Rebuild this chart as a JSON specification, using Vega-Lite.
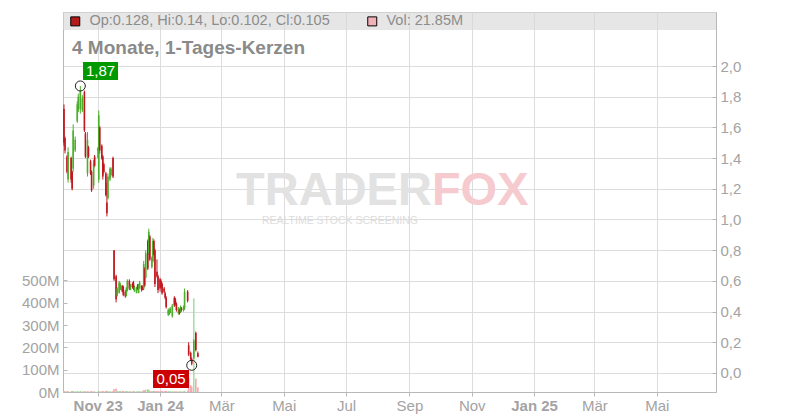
{
  "$schema": "https://vega.github.io/schema/vega-lite/v6.json",
  "width": 653,
  "height": 380,
  "autosize": {"type": "none"},
  "padding": {"left": 63, "top": 12, "right": 84, "bottom": 28},
  "background": "white",
  "title": {"text": "4 Monate, 1-Tages-Kerzen", "anchor": "start", "frame": "group", "offset": -46, "dx": 9, "fontSize": 19, "fontWeight": "bold", "color": "#8a8a8a", "font": "Liberation Sans"},
  "config": {
    "view": {"stroke": "#c8c8c8"},
    "axis": {"labelFont": "Liberation Sans", "labelFontSize": 15, "labelColor": "#a3a3a3", "domainColor": "#b8b8b8", "tickColor": "#b8b8b8", "gridColor": "#dddddd", "title": null}
  },
  "datasets": {
    "candles": [
      {"date": "2023-09-29", "open": 1.72, "high": 1.75, "low": 1.48, "close": 1.50, "volume_mio": 5},
      {"date": "2023-09-30", "open": 1.53, "high": 1.54, "low": 1.43, "close": 1.45, "volume_mio": 3},
      {"date": "2023-10-02", "open": 1.41, "high": 1.42, "low": 1.30, "close": 1.31, "volume_mio": 3},
      {"date": "2023-10-03", "open": 1.26, "high": 1.47, "low": 1.24, "close": 1.44, "volume_mio": 4},
      {"date": "2023-10-06", "open": 1.40, "high": 1.41, "low": 1.24, "close": 1.26, "volume_mio": 3},
      {"date": "2023-10-07", "open": 1.31, "high": 1.32, "low": 1.19, "close": 1.20, "volume_mio": 4},
      {"date": "2023-10-08", "open": 1.33, "high": 1.62, "low": 1.31, "close": 1.58, "volume_mio": 5},
      {"date": "2023-10-10", "open": 1.45, "high": 1.54, "low": 1.44, "close": 1.52, "volume_mio": 3},
      {"date": "2023-10-12", "open": 1.64, "high": 1.77, "low": 1.63, "close": 1.75, "volume_mio": 4},
      {"date": "2023-10-13", "open": 1.71, "high": 1.82, "low": 1.70, "close": 1.80, "volume_mio": 3},
      {"date": "2023-10-15", "open": 1.72, "high": 1.87, "low": 1.69, "close": 1.84, "volume_mio": 5},
      {"date": "2023-10-17", "open": 1.71, "high": 1.81, "low": 1.70, "close": 1.79, "volume_mio": 3},
      {"date": "2023-10-19", "open": 1.83, "high": 1.84, "low": 1.57, "close": 1.58, "volume_mio": 4},
      {"date": "2023-10-20", "open": 1.56, "high": 1.57, "low": 1.40, "close": 1.41, "volume_mio": 3},
      {"date": "2023-10-22", "open": 1.30, "high": 1.57, "low": 1.28, "close": 1.52, "volume_mio": 4},
      {"date": "2023-10-23", "open": 1.47, "high": 1.48, "low": 1.40, "close": 1.41, "volume_mio": 2},
      {"date": "2023-10-25", "open": 1.38, "high": 1.39, "low": 1.29, "close": 1.30, "volume_mio": 3},
      {"date": "2023-10-26", "open": 1.31, "high": 1.32, "low": 1.18, "close": 1.19, "volume_mio": 4},
      {"date": "2023-10-28", "open": 1.22, "high": 1.39, "low": 1.20, "close": 1.37, "volume_mio": 3},
      {"date": "2023-10-29", "open": 1.41, "high": 1.42, "low": 1.34, "close": 1.35, "volume_mio": 2},
      {"date": "2023-11-01", "open": 1.45, "high": 1.47, "low": 1.40, "close": 1.46, "volume_mio": 2},
      {"date": "2023-11-02", "open": 1.26, "high": 1.71, "low": 1.24, "close": 1.68, "volume_mio": 5},
      {"date": "2023-11-03", "open": 1.60, "high": 1.61, "low": 1.43, "close": 1.45, "volume_mio": 3},
      {"date": "2023-11-05", "open": 1.48, "high": 1.49, "low": 1.39, "close": 1.40, "volume_mio": 3},
      {"date": "2023-11-06", "open": 1.41, "high": 1.42, "low": 1.26, "close": 1.28, "volume_mio": 4},
      {"date": "2023-11-07", "open": 1.36, "high": 1.37, "low": 1.30, "close": 1.31, "volume_mio": 2},
      {"date": "2023-11-09", "open": 1.30, "high": 1.31, "low": 1.15, "close": 1.16, "volume_mio": 4},
      {"date": "2023-11-10", "open": 1.11, "high": 1.24, "low": 1.02, "close": 1.04, "volume_mio": 6},
      {"date": "2023-11-11", "open": 1.14, "high": 1.30, "low": 1.13, "close": 1.28, "volume_mio": 4},
      {"date": "2023-11-13", "open": 1.26, "high": 1.34, "low": 1.25, "close": 1.33, "volume_mio": 3},
      {"date": "2023-11-14", "open": 1.29, "high": 1.34, "low": 1.28, "close": 1.33, "volume_mio": 2},
      {"date": "2023-11-16", "open": 1.40, "high": 1.41, "low": 1.27, "close": 1.28, "volume_mio": 4},
      {"date": "2023-11-17", "open": 0.80, "high": 0.80, "low": 0.60, "close": 0.61, "volume_mio": 14},
      {"date": "2023-11-19", "open": 0.63, "high": 0.64, "low": 0.46, "close": 0.48, "volume_mio": 16},
      {"date": "2023-11-20", "open": 0.50, "high": 0.56, "low": 0.50, "close": 0.55, "volume_mio": 6},
      {"date": "2023-11-22", "open": 0.52, "high": 0.60, "low": 0.52, "close": 0.59, "volume_mio": 5},
      {"date": "2023-11-23", "open": 0.54, "high": 0.59, "low": 0.54, "close": 0.58, "volume_mio": 4},
      {"date": "2023-11-25", "open": 0.57, "high": 0.57, "low": 0.53, "close": 0.53, "volume_mio": 4},
      {"date": "2023-11-26", "open": 0.56, "high": 0.57, "low": 0.50, "close": 0.51, "volume_mio": 5},
      {"date": "2023-11-28", "open": 0.53, "high": 0.54, "low": 0.49, "close": 0.50, "volume_mio": 4},
      {"date": "2023-11-29", "open": 0.50, "high": 0.56, "low": 0.50, "close": 0.55, "volume_mio": 3},
      {"date": "2023-11-30", "open": 0.54, "high": 0.61, "low": 0.53, "close": 0.60, "volume_mio": 5},
      {"date": "2023-12-02", "open": 0.60, "high": 0.61, "low": 0.54, "close": 0.55, "volume_mio": 4},
      {"date": "2023-12-03", "open": 0.54, "high": 0.58, "low": 0.54, "close": 0.57, "volume_mio": 3},
      {"date": "2023-12-05", "open": 0.58, "high": 0.59, "low": 0.55, "close": 0.56, "volume_mio": 3},
      {"date": "2023-12-06", "open": 0.59, "high": 0.60, "low": 0.54, "close": 0.55, "volume_mio": 4},
      {"date": "2023-12-07", "open": 0.53, "high": 0.57, "low": 0.53, "close": 0.56, "volume_mio": 3},
      {"date": "2023-12-09", "open": 0.52, "high": 0.56, "low": 0.52, "close": 0.55, "volume_mio": 3},
      {"date": "2023-12-10", "open": 0.57, "high": 0.58, "low": 0.54, "close": 0.55, "volume_mio": 2},
      {"date": "2023-12-11", "open": 0.52, "high": 0.58, "low": 0.52, "close": 0.57, "volume_mio": 3},
      {"date": "2023-12-12", "open": 0.55, "high": 0.60, "low": 0.55, "close": 0.59, "volume_mio": 4},
      {"date": "2023-12-14", "open": 0.57, "high": 0.57, "low": 0.53, "close": 0.54, "volume_mio": 3},
      {"date": "2023-12-15", "open": 0.56, "high": 0.57, "low": 0.54, "close": 0.54, "volume_mio": 3},
      {"date": "2023-12-16", "open": 0.55, "high": 0.73, "low": 0.54, "close": 0.71, "volume_mio": 9},
      {"date": "2023-12-17", "open": 0.68, "high": 0.69, "low": 0.56, "close": 0.57, "volume_mio": 7},
      {"date": "2023-12-18", "open": 0.62, "high": 0.80, "low": 0.62, "close": 0.78, "volume_mio": 11},
      {"date": "2023-12-20", "open": 0.86, "high": 0.87, "low": 0.67, "close": 0.68, "volume_mio": 12},
      {"date": "2023-12-21", "open": 0.78, "high": 0.94, "low": 0.77, "close": 0.92, "volume_mio": 10},
      {"date": "2023-12-22", "open": 0.89, "high": 0.90, "low": 0.73, "close": 0.74, "volume_mio": 6},
      {"date": "2023-12-24", "open": 0.69, "high": 0.76, "low": 0.68, "close": 0.75, "volume_mio": 4},
      {"date": "2023-12-25", "open": 0.73, "high": 0.88, "low": 0.72, "close": 0.86, "volume_mio": 5},
      {"date": "2023-12-26", "open": 0.86, "high": 0.87, "low": 0.76, "close": 0.77, "volume_mio": 4},
      {"date": "2023-12-27", "open": 0.80, "high": 0.81, "low": 0.56, "close": 0.58, "volume_mio": 6},
      {"date": "2023-12-29", "open": 0.66, "high": 0.74, "low": 0.62, "close": 0.63, "volume_mio": 4},
      {"date": "2023-12-30", "open": 0.63, "high": 0.64, "low": 0.52, "close": 0.54, "volume_mio": 5},
      {"date": "2024-01-01", "open": 0.61, "high": 0.62, "low": 0.53, "close": 0.55, "volume_mio": 3},
      {"date": "2024-01-02", "open": 0.60, "high": 0.61, "low": 0.55, "close": 0.56, "volume_mio": 3},
      {"date": "2024-01-03", "open": 0.58, "high": 0.59, "low": 0.51, "close": 0.52, "volume_mio": 4},
      {"date": "2024-01-05", "open": 0.55, "high": 0.56, "low": 0.52, "close": 0.53, "volume_mio": 3},
      {"date": "2024-01-06", "open": 0.52, "high": 0.53, "low": 0.48, "close": 0.49, "volume_mio": 3},
      {"date": "2024-01-07", "open": 0.49, "high": 0.50, "low": 0.42, "close": 0.43, "volume_mio": 5},
      {"date": "2024-01-09", "open": 0.38, "high": 0.42, "low": 0.37, "close": 0.41, "volume_mio": 4},
      {"date": "2024-01-10", "open": 0.38, "high": 0.42, "low": 0.38, "close": 0.41, "volume_mio": 3},
      {"date": "2024-01-11", "open": 0.39, "high": 0.43, "low": 0.39, "close": 0.42, "volume_mio": 3},
      {"date": "2024-01-13", "open": 0.37, "high": 0.45, "low": 0.36, "close": 0.44, "volume_mio": 4},
      {"date": "2024-01-15", "open": 0.49, "high": 0.50, "low": 0.43, "close": 0.44, "volume_mio": 3},
      {"date": "2024-01-16", "open": 0.48, "high": 0.49, "low": 0.44, "close": 0.45, "volume_mio": 2},
      {"date": "2024-01-17", "open": 0.45, "high": 0.46, "low": 0.40, "close": 0.41, "volume_mio": 3},
      {"date": "2024-01-19", "open": 0.39, "high": 0.43, "low": 0.38, "close": 0.42, "volume_mio": 3},
      {"date": "2024-01-20", "open": 0.41, "high": 0.42, "low": 0.38, "close": 0.39, "volume_mio": 2},
      {"date": "2024-01-21", "open": 0.40, "high": 0.44, "low": 0.39, "close": 0.43, "volume_mio": 3},
      {"date": "2024-01-22", "open": 0.42, "high": 0.43, "low": 0.40, "close": 0.41, "volume_mio": 2},
      {"date": "2024-01-24", "open": 0.41, "high": 0.44, "low": 0.40, "close": 0.43, "volume_mio": 3},
      {"date": "2024-01-25", "open": 0.42, "high": 0.55, "low": 0.41, "close": 0.53, "volume_mio": 6},
      {"date": "2024-01-28", "open": 0.53, "high": 0.54, "low": 0.46, "close": 0.47, "volume_mio": 5},
      {"date": "2024-01-29", "open": 0.18, "high": 0.20, "low": 0.11, "close": 0.12, "volume_mio": 65},
      {"date": "2024-01-31", "open": 0.13, "high": 0.14, "low": 0.08, "close": 0.09, "volume_mio": 30},
      {"date": "2024-02-01", "open": 0.09, "high": 0.10, "low": 0.05, "close": 0.06, "volume_mio": 25},
      {"date": "2024-02-03", "open": 0.10, "high": 0.22, "low": 0.09, "close": 0.21, "volume_mio": 420},
      {"date": "2024-02-05", "open": 0.26, "high": 0.27, "low": 0.14, "close": 0.15, "volume_mio": 60},
      {"date": "2024-02-07", "open": 0.128, "high": 0.14, "low": 0.102, "close": 0.105, "volume_mio": 21.85}
    ],
    "extremes": [
      {"date": "2023-10-15", "price": 1.87, "label": "1,87", "kind": "max"},
      {"date": "2024-02-01", "price": 0.05, "label": "0,05", "kind": "min"}
    ],
    "legend_items": [
      {"item": "Op:0.128, Hi:0.14, Lo:0.102, Cl:0.105"},
      {"item": "Vol: 21.85M"}
    ]
  },
  "layer": [
    {
      "data": {"name": "candles"},
      "mark": {"type": "bar", "size": 1.6},
      "encoding": {
        "x": {
          "field": "date", "type": "temporal",
          "scale": {"type": "utc", "nice": false, "padding": 0, "domain": [{"year": 2023, "month": 9, "date": 28, "hours": 1, "utc": true}, {"year": 2025, "month": 6, "date": 28, "utc": true}]},
          "axis": {
            "orient": "bottom", "grid": true, "tickSize": 4, "labelPadding": 2, "labelOverlap": false, "labelFlush": false,
            "values": [
              {"year": 2023, "month": 11, "date": 1, "utc": true},
              {"year": 2024, "month": 1, "date": 1, "utc": true},
              {"year": 2024, "month": 3, "date": 1, "utc": true},
              {"year": 2024, "month": 5, "date": 1, "utc": true},
              {"year": 2024, "month": 7, "date": 1, "utc": true},
              {"year": 2024, "month": 9, "date": 1, "utc": true},
              {"year": 2024, "month": 11, "date": 1, "utc": true},
              {"year": 2025, "month": 1, "date": 1, "utc": true},
              {"year": 2025, "month": 3, "date": 1, "utc": true},
              {"year": 2025, "month": 5, "date": 1, "utc": true}
            ],
            "labelExpr": "(utcmonth(datum.value) == 0 || (utcmonth(datum.value) == 10 && utcyear(datum.value) == 2023)) ? ['Jan','Feb','Mär','Apr','Mai','Jun','Jul','Aug','Sep','Okt','Nov','Dez'][utcmonth(datum.value)] + ' ' + utcFormat(datum.value, '%y') : ['Jan','Feb','Mär','Apr','Mai','Jun','Jul','Aug','Sep','Okt','Nov','Dez'][utcmonth(datum.value)]",
            "labelFontWeight": {"condition": {"test": "utcmonth(datum.value) == 0 || (utcmonth(datum.value) == 10 && utcyear(datum.value) == 2023)", "value": "bold"}, "value": "normal"}
          }
        },
        "y": {
          "field": "volume_mio", "type": "quantitative",
          "scale": {"domain": [0, 1704], "nice": false, "zero": true},
          "axis": {"orient": "left", "values": [0, 100, 200, 300, 400, 500], "labelExpr": "datum.value + 'M'", "grid": false, "tickSize": -4, "labelPadding": 8, "labelOverlap": false}
        },
        "color": {"condition": {"test": "datum.close < datum.open", "value": "#f3a9b2"}, "value": "#a8dea2"}
      }
    },
    {
      "layer": [
        {
          "data": {"name": "candles"},
          "mark": {"type": "rule", "strokeWidth": 1},
          "encoding": {
            "x": {"field": "date", "type": "temporal"},
            "y": {
              "field": "low", "type": "quantitative",
              "scale": {"domain": [-0.124, 2.352], "nice": false, "zero": false},
              "axis": {"orient": "right", "values": [0, 0.2, 0.4, 0.6, 0.8, 1.0, 1.2, 1.4, 1.6, 1.8, 2.0], "labelExpr": "replace(format(datum.value, '.1f'), '.', ',')", "grid": true, "tickSize": -4, "labelPadding": 8, "labelOverlap": false}
            },
            "y2": {"field": "high"},
            "color": {"condition": {"test": "datum.close < datum.open", "value": "#c0161e"}, "value": "#4caf2b"}
          }
        },
        {
          "data": {"values": [{}]},
          "mark": {"type": "rect", "fill": "#d6d6d6", "opacity": 0.62},
          "encoding": {
            "y": {"datum": 2.352, "type": "quantitative", "axis": {"orient": "right", "values": [0, 0.2, 0.4, 0.6, 0.8, 1.0, 1.2, 1.4, 1.6, 1.8, 2.0], "labelExpr": "replace(format(datum.value, '.1f'), '.', ',')", "grid": true, "tickSize": -4, "labelPadding": 8, "labelOverlap": false}},
            "y2": {"datum": 2.234}
          }
        },
        {
          "data": {"values": [{}]},
          "mark": {"type": "text", "text": "TRADER", "align": "right", "baseline": "middle", "font": "Liberation Sans", "fontWeight": "bold", "fontSize": 47, "color": "#e2e2e2"},
          "encoding": {
            "x": {"datum": {"year": 2024, "month": 9, "date": 23, "utc": true}, "type": "temporal"},
            "y": {"datum": 1.185, "type": "quantitative", "axis": {"orient": "right", "values": [0, 0.2, 0.4, 0.6, 0.8, 1.0, 1.2, 1.4, 1.6, 1.8, 2.0], "labelExpr": "replace(format(datum.value, '.1f'), '.', ',')", "grid": true, "tickSize": -4, "labelPadding": 8, "labelOverlap": false}}
          }
        },
        {
          "data": {"values": [{}]},
          "mark": {"type": "text", "text": "FOX", "align": "left", "baseline": "middle", "font": "Liberation Sans", "fontWeight": "bold", "fontSize": 47, "color": "#f6cbd0"},
          "encoding": {
            "x": {"datum": {"year": 2024, "month": 9, "date": 23, "utc": true}, "type": "temporal"},
            "y": {"datum": 1.185, "type": "quantitative", "axis": {"orient": "right", "values": [0, 0.2, 0.4, 0.6, 0.8, 1.0, 1.2, 1.4, 1.6, 1.8, 2.0], "labelExpr": "replace(format(datum.value, '.1f'), '.', ',')", "grid": true, "tickSize": -4, "labelPadding": 8, "labelOverlap": false}}
          }
        },
        {
          "data": {"values": [{}]},
          "mark": {"type": "text", "text": "REALTIME STOCK SCREENING", "align": "center", "baseline": "middle", "font": "Liberation Sans", "fontSize": 10.5, "color": "#dcdcdc"},
          "encoding": {
            "x": {"datum": {"year": 2024, "month": 6, "date": 25, "utc": true}, "type": "temporal"},
            "y": {"datum": 0.99, "type": "quantitative", "axis": {"orient": "right", "values": [0, 0.2, 0.4, 0.6, 0.8, 1.0, 1.2, 1.4, 1.6, 1.8, 2.0], "labelExpr": "replace(format(datum.value, '.1f'), '.', ',')", "grid": true, "tickSize": -4, "labelPadding": 8, "labelOverlap": false}}
          }
        },
        {
          "data": {"name": "candles"},
          "mark": {"type": "rule", "strokeWidth": 1.6},
          "encoding": {
            "x": {"field": "date", "type": "temporal"},
            "y": {"field": "open", "type": "quantitative", "axis": {"orient": "right", "values": [0, 0.2, 0.4, 0.6, 0.8, 1.0, 1.2, 1.4, 1.6, 1.8, 2.0], "labelExpr": "replace(format(datum.value, '.1f'), '.', ',')", "grid": true, "tickSize": -4, "labelPadding": 8, "labelOverlap": false}},
            "y2": {"field": "close"},
            "color": {"condition": {"test": "datum.close < datum.open", "value": "#c0161e"}, "value": "#4caf2b"}
          }
        },
        {
          "data": {"name": "extremes"},
          "mark": {"type": "point", "shape": "circle", "size": 100, "filled": false, "stroke": "#222222", "strokeWidth": 1, "opacity": 1},
          "encoding": {
            "x": {"field": "date", "type": "temporal"},
            "y": {"field": "price", "type": "quantitative", "axis": {"orient": "right", "values": [0, 0.2, 0.4, 0.6, 0.8, 1.0, 1.2, 1.4, 1.6, 1.8, 2.0], "labelExpr": "replace(format(datum.value, '.1f'), '.', ',')", "grid": true, "tickSize": -4, "labelPadding": 8, "labelOverlap": false}}
          }
        },
        {
          "data": {"name": "extremes"},
          "transform": [{"filter": "datum.kind == 'max'"}],
          "mark": {"type": "rect", "color": "#009a00", "xOffset": 2.7, "x2Offset": 37.7, "yOffset": -24, "y2Offset": -6},
          "encoding": {
            "x": {"field": "date", "type": "temporal"},
            "x2": {"field": "date"},
            "y": {"field": "price", "type": "quantitative", "axis": {"orient": "right", "values": [0, 0.2, 0.4, 0.6, 0.8, 1.0, 1.2, 1.4, 1.6, 1.8, 2.0], "labelExpr": "replace(format(datum.value, '.1f'), '.', ',')", "grid": true, "tickSize": -4, "labelPadding": 8, "labelOverlap": false}},
            "y2": {"field": "price"}
          }
        },
        {
          "data": {"name": "extremes"},
          "transform": [{"filter": "datum.kind == 'min'"}],
          "mark": {"type": "rect", "color": "#cc0000", "xOffset": -38.7, "x2Offset": -2.7, "yOffset": 4.7, "y2Offset": 22.7},
          "encoding": {
            "x": {"field": "date", "type": "temporal"},
            "x2": {"field": "date"},
            "y": {"field": "price", "type": "quantitative", "axis": {"orient": "right", "values": [0, 0.2, 0.4, 0.6, 0.8, 1.0, 1.2, 1.4, 1.6, 1.8, 2.0], "labelExpr": "replace(format(datum.value, '.1f'), '.', ',')", "grid": true, "tickSize": -4, "labelPadding": 8, "labelOverlap": false}},
            "y2": {"field": "price"}
          }
        },
        {
          "data": {"name": "extremes"},
          "transform": [{"filter": "datum.kind == 'max'"}],
          "mark": {"type": "text", "color": "white", "font": "Liberation Sans", "fontSize": 15, "align": "center", "baseline": "middle", "dx": 20.2, "dy": -15},
          "encoding": {
            "x": {"field": "date", "type": "temporal"},
            "y": {"field": "price", "type": "quantitative", "axis": {"orient": "right", "values": [0, 0.2, 0.4, 0.6, 0.8, 1.0, 1.2, 1.4, 1.6, 1.8, 2.0], "labelExpr": "replace(format(datum.value, '.1f'), '.', ',')", "grid": true, "tickSize": -4, "labelPadding": 8, "labelOverlap": false}},
            "text": {"field": "label"}
          }
        },
        {
          "data": {"name": "extremes"},
          "transform": [{"filter": "datum.kind == 'min'"}],
          "mark": {"type": "text", "color": "white", "font": "Liberation Sans", "fontSize": 15, "align": "center", "baseline": "middle", "dx": -20.7, "dy": 13.7},
          "encoding": {
            "x": {"field": "date", "type": "temporal"},
            "y": {"field": "price", "type": "quantitative", "axis": {"orient": "right", "values": [0, 0.2, 0.4, 0.6, 0.8, 1.0, 1.2, 1.4, 1.6, 1.8, 2.0], "labelExpr": "replace(format(datum.value, '.1f'), '.', ',')", "grid": true, "tickSize": -4, "labelPadding": 8, "labelOverlap": false}},
            "text": {"field": "label"}
          }
        }
      ]
    },
    {
      "data": {"name": "legend_items"},
      "mark": {"type": "point", "shape": "square", "filled": true, "opacity": 0},
      "encoding": {
        "color": {
          "field": "item", "type": "nominal",
          "scale": {"domain": ["Op:0.128, Hi:0.14, Lo:0.102, Cl:0.105", "Vol: 21.85M"], "range": ["#b31b1b", "#f2b1b8"]},
          "legend": {
            "orient": "none", "legendX": 5, "legendY": 2, "direction": "horizontal", "title": null, "padding": 0,
            "symbolType": "square", "symbolSize": 81, "symbolOpacity": 1, "symbolStrokeColor": "#000000", "symbolStrokeWidth": 1,
            "labelFont": "Liberation Sans", "labelFontSize": 14.5, "labelColor": "#8c8c8c", "labelOffset": 7, "columnPadding": 35, "labelLimit": 400,
            "encode": {"symbols": {"update": {"stroke": {"value": "#000000"}, "strokeWidth": {"value": 1}, "opacity": {"value": 1}}}}
          }
        }
      }
    }
  ],
  "resolve": {"scale": {"y": "independent"}}
}
